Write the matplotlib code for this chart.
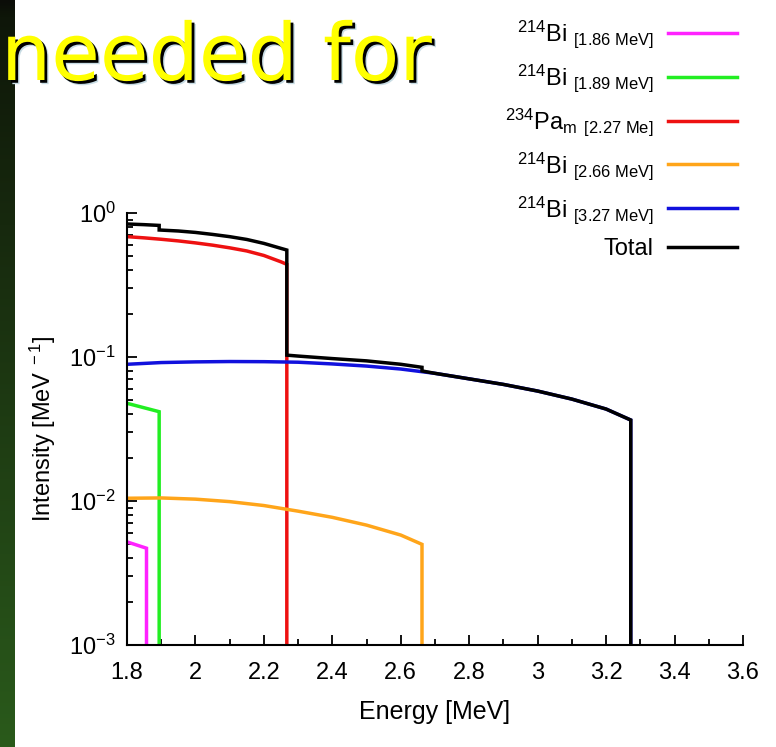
import numpy as np
import matplotlib
matplotlib.use("Agg")
import matplotlib.pyplot as plt
import matplotlib.patheffects as pe
from matplotlib.colors import LinearSegmentedColormap
from matplotlib.ticker import FuncFormatter, MultipleLocator, LogLocator

# spectra: energy [MeV], intensity [MeV^-1]
mag_e = [1.80, 1.857, 1.857]
mag_i = [5.2e-3, 4.7e-3, 0]

green_e = [1.80, 1.894, 1.894]
green_i = [0.0477, 0.0417, 0]

red_e = [1.80, 1.85, 1.90, 1.95, 2.00, 2.05, 2.10, 2.15, 2.20, 2.25, 2.267, 2.267]
red_i = [0.685, 0.672, 0.657, 0.640, 0.620, 0.598, 0.573, 0.545, 0.507, 0.458, 0.440, 0]

orange_e = [1.80, 1.90, 2.00, 2.10, 2.20, 2.30, 2.40, 2.50, 2.60, 2.662, 2.662]
orange_i = [0.01045, 0.0105, 0.0103, 0.0099, 0.0093, 0.0085, 0.0077, 0.0068, 0.0058, 0.0050, 0]

blue_e = [1.80, 1.90, 2.00, 2.10, 2.20, 2.30, 2.40, 2.50, 2.60, 2.70, 2.80,
          2.90, 3.00, 3.10, 3.20, 3.272, 3.272]
blue_i = [0.089, 0.0915, 0.0925, 0.093, 0.0928, 0.092, 0.0895, 0.0865, 0.0825,
          0.077, 0.0705, 0.0645, 0.058, 0.051, 0.0435, 0.0365, 0]

total_e = [1.80, 1.85, 1.894, 1.894, 1.95, 2.00, 2.05, 2.10, 2.15, 2.20, 2.25,
           2.267, 2.267, 2.30, 2.40, 2.50, 2.60, 2.662, 2.662, 2.70, 2.80,
           2.90, 3.00, 3.10, 3.20, 3.272, 3.272]
total_i = [0.839, 0.830, 0.820, 0.762, 0.750, 0.733, 0.710, 0.685, 0.655, 0.615,
           0.568, 0.553, 0.103, 0.1015, 0.0975, 0.094, 0.089, 0.0848, 0.0800,
           0.077, 0.0705, 0.0645, 0.058, 0.051, 0.0435, 0.0365, 0]

labels = [r"$^{214}$Bi $_{\mathrm{[1.86\ MeV]}}$",
          r"$^{214}$Bi $_{\mathrm{[1.89\ MeV]}}$",
          r"$^{234}$Pa$_{\mathrm{m}}$ $_{\mathrm{[2.27\ Me]}}$",
          r"$^{214}$Bi $_{\mathrm{[2.66\ MeV]}}$",
          r"$^{214}$Bi $_{\mathrm{[3.27\ MeV]}}$",
          "Total"]
colors = ["#ff22ff", "#22ee22", "#ee1111", "#ffa51a", "#1111dd", "#000000"]

plt.rcParams["font.family"] = ["Liberation Sans", "DejaVu Sans"]
plt.rcParams["mathtext.fontset"] = "custom"
plt.rcParams["mathtext.rm"] = "Liberation Sans"
plt.rcParams["mathtext.it"] = "Liberation Sans:italic"
plt.rcParams["mathtext.bf"] = "Liberation Sans:bold"


def main():
    W, H = 776, 747
    fig = plt.figure(figsize=(W / 100, H / 100), dpi=100)

    # dark green slide strip on the left
    strip = fig.add_axes([0, 0, 15 / W, 1])
    cmap = LinearSegmentedColormap.from_list(
        "slide", [(0, "#0b0d08"), (0.02, "#0e1609"), (0.3, "#17290e"), (1, "#2a5a1b")])
    grad = np.linspace(0, 1, 256).reshape(-1, 1)
    strip.imshow(grad, aspect="auto", cmap=cmap, origin="upper")
    strip.axis("off")

    ax = fig.add_axes([127 / W, 1 - 645 / H, (743 - 127) / W, (645 - 213) / H])
    series = [(mag_e, mag_i), (green_e, green_i), (red_e, red_i),
              (orange_e, orange_i), (blue_e, blue_i), (total_e, total_i)]
    for (e, i), lab, c in zip(series, labels, colors):
        ax.plot(e, i, color=c, lw=2.5, label=lab, solid_joinstyle="miter")

    ax.set_yscale("log")
    ax.set_xlim(1.8, 3.6)
    ax.set_ylim(1e-3, 1)
    ax.xaxis.set_major_locator(MultipleLocator(0.2))
    ax.xaxis.set_minor_locator(MultipleLocator(0.1))
    ax.xaxis.set_major_formatter(FuncFormatter(lambda v, p: "%g" % round(v, 2)))
    ax.yaxis.set_minor_locator(LogLocator(base=10, subs=np.arange(2, 10)))
    ax.tick_params(which="both", direction="in", labelsize=17, width=1.3)
    ax.tick_params(which="major", length=7)
    ax.tick_params(which="minor", length=4)
    ax.tick_params(axis="x", which="major", pad=12)
    ax.tick_params(axis="y", which="major", pad=8)
    ax.spines["top"].set_visible(False)
    ax.spines["right"].set_visible(False)
    for s in ("left", "bottom"):
        ax.spines[s].set_linewidth(1.5)

    ax.set_xlabel("Energy [MeV]", fontsize=18, labelpad=12)
    ax.set_ylabel(r"Intensity [MeV$^{\ -1}$]", fontsize=17, labelpad=8)

    handles, labs = ax.get_legend_handles_labels()
    fig.legend(handles, labs, loc="upper right", bbox_to_anchor=(746 / W, 1 - 9 / H),
               borderaxespad=0, markerfirst=False, frameon=False, fontsize=17,
               handlelength=2.9, handletextpad=0.6, labelspacing=0.52)

    fig.text(1 / W, 1 - 80 / H, "needed for", fontsize=57, color="#ffff00",
             family="DejaVu Sans", va="baseline", ha="left",
             path_effects=[pe.SimplePatchShadow(offset=(3, -3), shadow_rgbFace="#c8dce4", alpha=1),
                           pe.SimplePatchShadow(offset=(2, -2), shadow_rgbFace="#000000", alpha=1),
                           pe.Normal()])

    fig.savefig("out.png", dpi=100)


if __name__ == '__main__':
    main()
